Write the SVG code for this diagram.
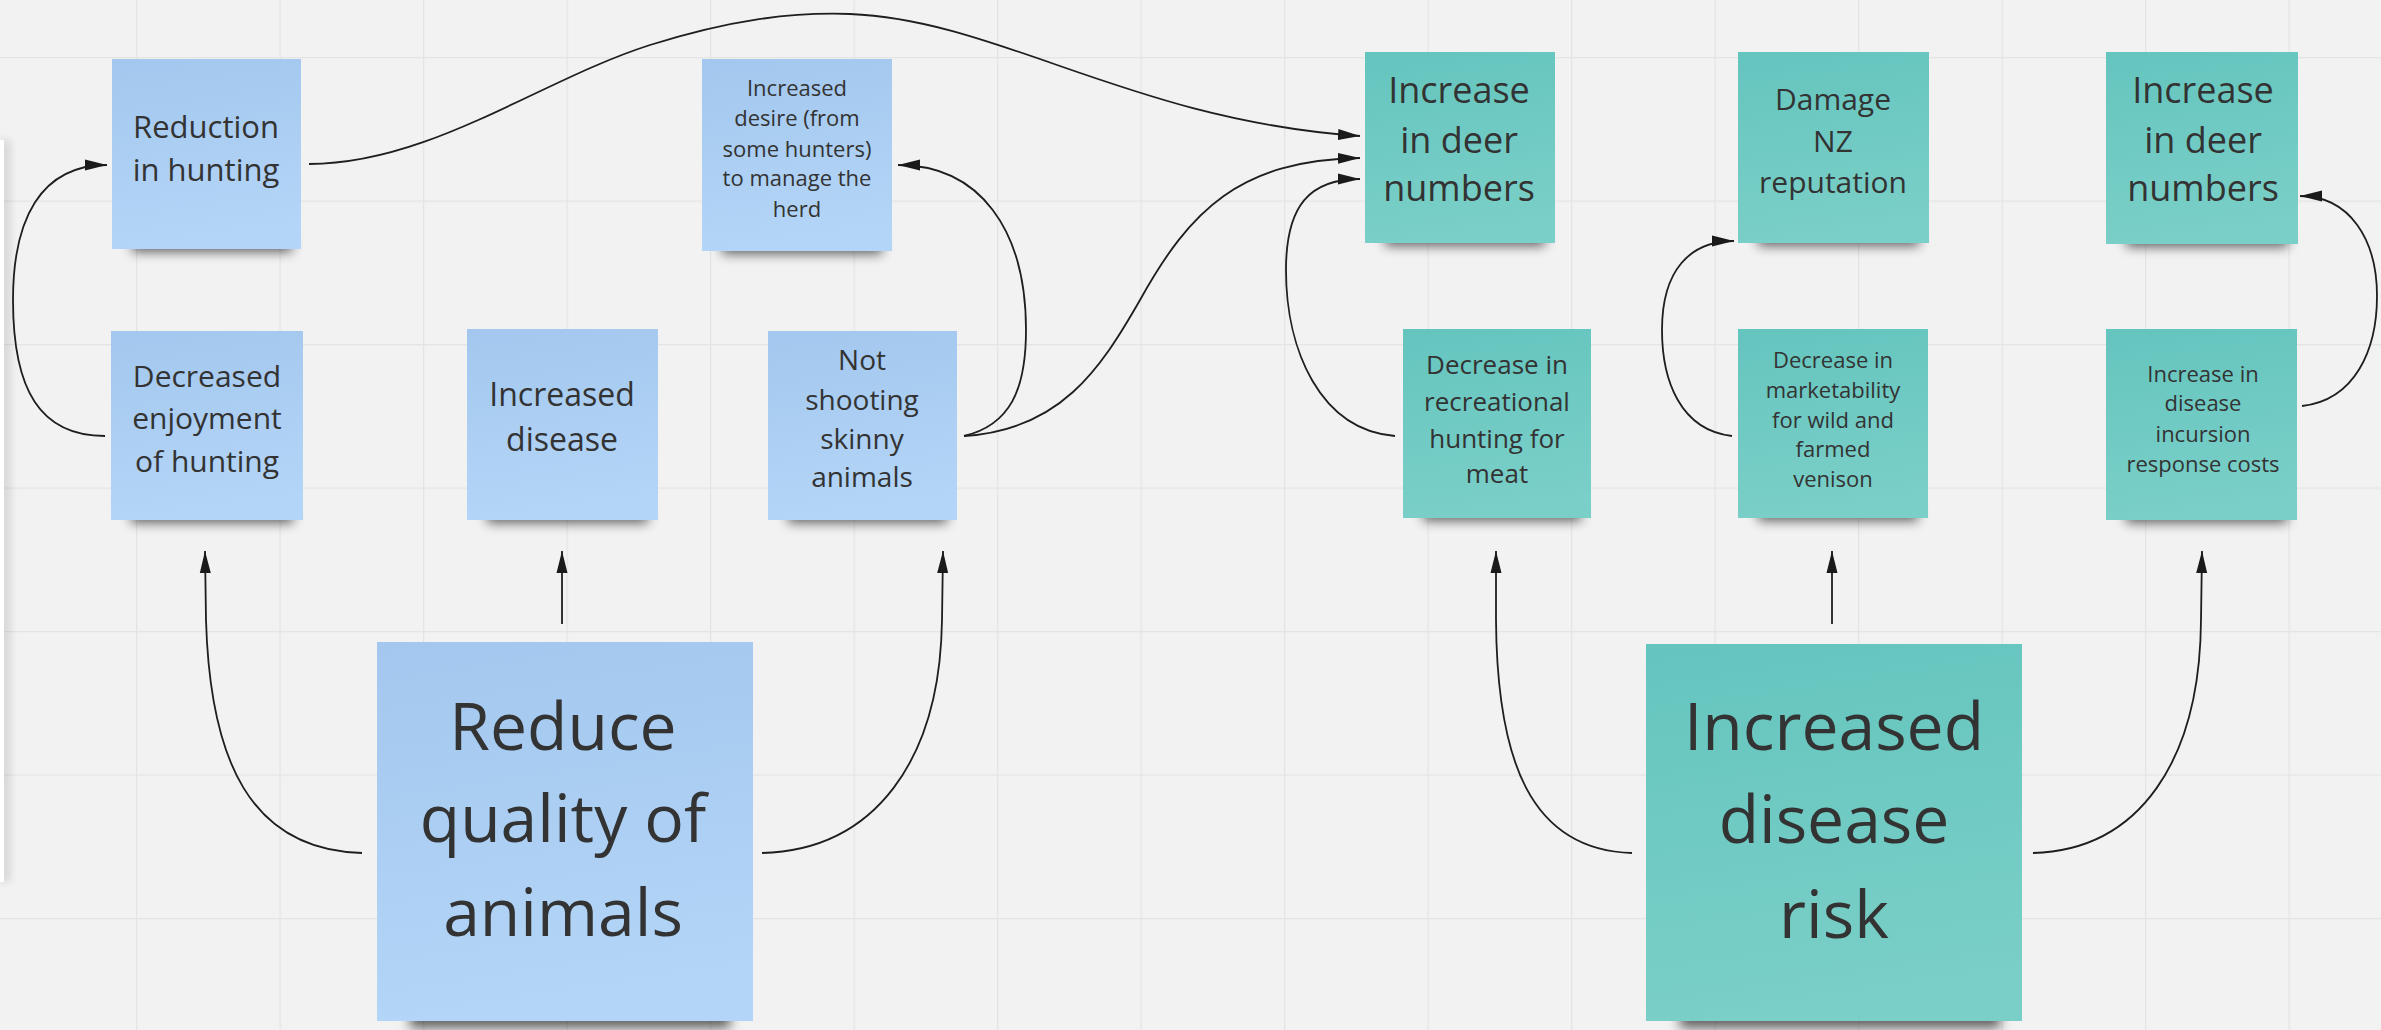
<svg xmlns="http://www.w3.org/2000/svg" width="2381" height="1030" viewBox="0 0 2381 1030">
<defs>
  <pattern id="grid" patternUnits="userSpaceOnUse" x="-7.5" y="57" width="143.5" height="143.5">
    <path d="M0 0 H143.5 M0 0 V143.5" stroke="#e4e4e4" stroke-width="2.5" fill="none"/>
  </pattern>
  <linearGradient id="gBlue" x1="0" y1="0" x2="0.15" y2="1">
    <stop offset="0" stop-color="#a3c7ee"/>
    <stop offset="1" stop-color="#b3d5f7"/>
  </linearGradient>
  <linearGradient id="gTeal" x1="0" y1="0" x2="0.15" y2="1">
    <stop offset="0" stop-color="#64c5be"/>
    <stop offset="1" stop-color="#7acfc8"/>
  </linearGradient>
  <filter id="sh" x="-20%" y="-100%" width="140%" height="300%">
    <feGaussianBlur stdDeviation="6"/>
  </filter>
  <filter id="sh2" x="-50%" y="-10%" width="300%" height="120%">
    <feGaussianBlur stdDeviation="4"/>
  </filter>
  <marker id="arr" markerUnits="userSpaceOnUse" markerWidth="24" markerHeight="12" refX="22" refY="6" orient="auto">
    <path d="M0,0.5 L22,6 L0,11.5 z" fill="#1a1a1a"/>
  </marker>
  <style>
    .blue { fill: url(#gBlue); }
    .teal { fill: url(#gTeal); }
    .shadow { fill: #000; opacity: 0.6; filter: url(#sh); }
    .t { font-family: "Open Sans", "Noto Sans", "Liberation Sans", sans-serif; fill: #333333; text-anchor: middle; }
    .conn { fill: none; stroke: #1e1e1e; stroke-width: 1.8; marker-end: url(#arr); }
  </style>
</defs>

<rect x="0" y="0" width="2381" height="1030" fill="#f2f2f2"/>
<rect x="0" y="0" width="2381" height="1030" fill="url(#grid)"/>

<g id="side-panel">
  <rect x="0" y="140" width="10" height="742" fill="#000" opacity="0.12" filter="url(#sh2)"/>
  <rect x="0" y="140" width="4" height="742" fill="#ffffff"/>
</g>

<g id="connectors">
  <path class="conn" d="M309 164 C430 164, 540 80, 650 45 C730 20, 790 12, 850 14 C1000 20, 1130 120, 1360 136"/>
  <path class="conn" d="M105 436 C40 436, 13 390, 13 300 C13 220, 40 165, 107 165"/>
  <path class="conn" d="M964 436 C1010 425, 1026 390, 1026 330 C1026 230, 980 165, 898 165"/>
  <path class="conn" d="M964 436 C1060 430, 1100 370, 1140 300 C1190 210, 1240 160, 1360 158"/>
  <path class="conn" d="M1395 436 C1320 430, 1286 350, 1286 270 C1286 205, 1310 179, 1360 179"/>
  <path class="conn" d="M1732 436 C1680 430, 1662 380, 1662 330 C1662 270, 1690 241, 1734 241"/>
  <path class="conn" d="M2302 406 C2355 400, 2377 350, 2377 296 C2377 240, 2350 196, 2300 196"/>
  <path class="conn" d="M362 853 C250 850, 210 760, 206 620 L205 551"/>
  <path class="conn" d="M562 624 L562 551"/>
  <path class="conn" d="M762 853 C875 850, 940 760, 942 620 L943 551"/>
  <path class="conn" d="M1632 853 C1530 850, 1497 760, 1496 620 L1496 551"/>
  <path class="conn" d="M1832 624 L1832 551"/>
  <path class="conn" d="M2033 853 C2140 850, 2200 760, 2201 620 L2202 551"/>
</g>

<g id="n-reduction">
  <rect class="shadow" x="132" y="236" width="160" height="16"/>
  <rect class="blue" x="112" y="59" width="189" height="190"/>
  <text class="t" font-size="31"><tspan x="206" y="138">Reduction</tspan><tspan x="206" y="181">in hunting</tspan></text>
</g>

<g id="n-desire">
  <rect class="shadow" x="722" y="238" width="160" height="16"/>
  <rect class="blue" x="702" y="59" width="190" height="192"/>
  <text class="t" font-size="22"><tspan x="797" y="96">Increased</tspan><tspan x="797" y="126">desire (from</tspan><tspan x="797" y="157">some hunters)</tspan><tspan x="797" y="186">to manage the</tspan><tspan x="797" y="217">herd</tspan></text>
</g>

<g id="n-enjoyment">
  <rect class="shadow" x="131" y="507" width="162" height="16"/>
  <rect class="blue" x="111" y="331" width="192" height="189"/>
  <text class="t" font-size="30"><tspan x="207" y="387">Decreased</tspan><tspan x="207" y="429">enjoyment</tspan><tspan x="207" y="472">of hunting</tspan></text>
</g>

<g id="n-disease">
  <rect class="shadow" x="487" y="507" width="161" height="16"/>
  <rect class="blue" x="467" y="329" width="191" height="191"/>
  <text class="t" font-size="32"><tspan x="562" y="406">Increased</tspan><tspan x="562" y="451">disease</tspan></text>
</g>

<g id="n-skinny">
  <rect class="shadow" x="788" y="507" width="159" height="16"/>
  <rect class="blue" x="768" y="331" width="189" height="189"/>
  <text class="t" font-size="28"><tspan x="862" y="370">Not</tspan><tspan x="862" y="410">shooting</tspan><tspan x="862" y="449">skinny</tspan><tspan x="862" y="487">animals</tspan></text>
</g>

<g id="n-reduce-quality">
  <rect class="shadow" x="410" y="1006" width="320" height="22"/>
  <rect class="blue" x="377" y="642" width="376" height="379"/>
  <text class="t" font-size="66"><tspan x="563" y="750">Reduce</tspan><tspan x="563" y="842">quality of</tspan><tspan x="563" y="936">animals</tspan></text>
</g>

<g id="n-deer-1">
  <rect class="shadow" x="1385" y="230" width="160" height="16"/>
  <rect class="teal" x="1365" y="52" width="190" height="191"/>
  <text class="t" font-size="36"><tspan x="1459" y="103">Increase</tspan><tspan x="1459" y="153">in deer</tspan><tspan x="1459" y="201">numbers</tspan></text>
</g>

<g id="n-damage">
  <rect class="shadow" x="1758" y="230" width="161" height="16"/>
  <rect class="teal" x="1738" y="52" width="191" height="191"/>
  <text class="t" font-size="30"><tspan x="1833" y="110">Damage</tspan><tspan x="1833" y="152">NZ</tspan><tspan x="1833" y="193">reputation</tspan></text>
</g>

<g id="n-deer-2">
  <rect class="shadow" x="2126" y="231" width="162" height="16"/>
  <rect class="teal" x="2106" y="52" width="192" height="192"/>
  <text class="t" font-size="36"><tspan x="2203" y="103">Increase</tspan><tspan x="2203" y="153">in deer</tspan><tspan x="2203" y="201">numbers</tspan></text>
</g>

<g id="n-recreational">
  <rect class="shadow" x="1423" y="505" width="158" height="16"/>
  <rect class="teal" x="1403" y="329" width="188" height="189"/>
  <text class="t" font-size="26"><tspan x="1497" y="374">Decrease in</tspan><tspan x="1497" y="411">recreational</tspan><tspan x="1497" y="448">hunting for</tspan><tspan x="1497" y="483">meat</tspan></text>
</g>

<g id="n-marketability">
  <rect class="shadow" x="1758" y="505" width="160" height="16"/>
  <rect class="teal" x="1738" y="329" width="190" height="189"/>
  <text class="t" font-size="22"><tspan x="1833" y="368">Decrease in</tspan><tspan x="1833" y="398">marketability</tspan><tspan x="1833" y="428">for wild and</tspan><tspan x="1833" y="457">farmed</tspan><tspan x="1833" y="487">venison</tspan></text>
</g>

<g id="n-incursion">
  <rect class="shadow" x="2126" y="507" width="161" height="16"/>
  <rect class="teal" x="2106" y="329" width="191" height="191"/>
  <text class="t" font-size="22"><tspan x="2203" y="382">Increase in</tspan><tspan x="2203" y="411">disease</tspan><tspan x="2203" y="442">incursion</tspan><tspan x="2203" y="472">response costs</tspan></text>
</g>

<g id="n-disease-risk">
  <rect class="shadow" x="1680" y="1006" width="320" height="22"/>
  <rect class="teal" x="1646" y="644" width="376" height="377"/>
  <text class="t" font-size="66"><tspan x="1834" y="750">Increased</tspan><tspan x="1834" y="843">disease</tspan><tspan x="1834" y="938">risk</tspan></text>
</g>
</svg>
